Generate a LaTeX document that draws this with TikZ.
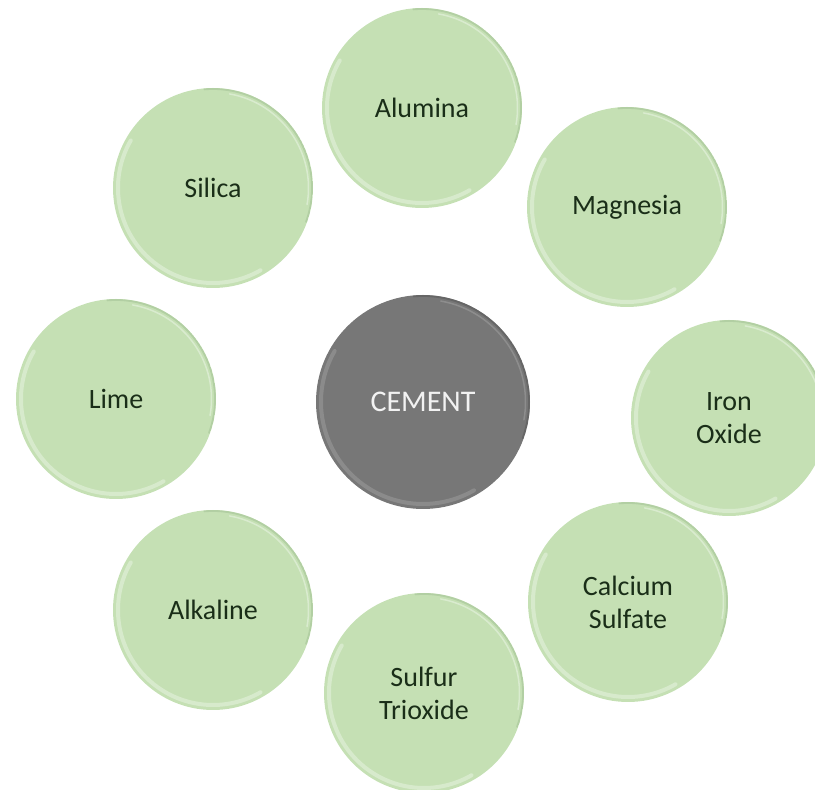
\documentclass[tikz,border=0pt]{standalone}
\usepackage{fontspec}
\setmainfont{Carlito}
\definecolor{gfill}{HTML}{C5E0B4}
\definecolor{glight}{HTML}{DCEDD2}
\definecolor{gdark}{HTML}{A9C79B}
\definecolor{gtext}{HTML}{1A2E18}
\definecolor{cfill}{HTML}{777777}
\definecolor{clight}{HTML}{909090}
\definecolor{cdark}{HTML}{5E5E5E}
\definecolor{ctext}{HTML}{F2F2F2}
\tikzset{
  bevel/.style n args={3}{path picture={
    \draw[#2, line width=4pt, line cap=round, opacity=0.8]
      ([shift={(150:#1-5pt)}]path picture bounding box.center) arc[start angle=150, end angle=300, radius=#1-5pt];
    \draw[#3, line width=1.8pt, line cap=round, opacity=0.65]
      ([shift={(-20:#1-1pt)}]path picture bounding box.center) arc[start angle=-20, end angle=95, radius=#1-1pt];
    \draw[#2, line width=1.5pt, line cap=round, opacity=0.9]
      ([shift={(-10:#1-4.5pt)}]path picture bounding box.center) arc[start angle=-10, end angle=80, radius=#1-4.5pt];
  }},
  ball/.style={circle, inner sep=0pt, minimum size=200pt, fill=gfill, text=gtext,
    font=\fontsize{28}{33}\selectfont, align=center, bevel={100pt}{glight}{gdark}},
  core/.style={circle, inner sep=0pt, minimum size=214pt, fill=cfill, text=ctext,
    font=\fontsize{30}{36}\selectfont, align=center, bevel={107pt}{clight}{cdark}}
}
\begin{document}
\begin{tikzpicture}[x=1pt,y=1pt]
\useasboundingbox (0,0) rectangle (815,790);
\clip (0,0) rectangle (815,790);
\node[core] (cement) at (423,388) {CEMENT};
\node[ball] (alumina) at (422,682) {Alumina};
\node[ball] (magnesia) at (627,583) {Magnesia};
\node[ball, minimum size=196pt, bevel={98pt}{glight}{gdark}] (iron) at (729,372) {Iron\\Oxide};
\node[ball] (calcium) at (628,188) {Calcium\\Sulfate};
\node[ball] (sulfur) at (424,97) {Sulfur\\Trioxide};
\node[ball] (alkaline) at (213,180) {Alkaline};
\node[ball] (lime) at (116,391) {Lime};
\node[ball] (silica) at (213,602) {Silica};
\end{tikzpicture}
\end{document}
